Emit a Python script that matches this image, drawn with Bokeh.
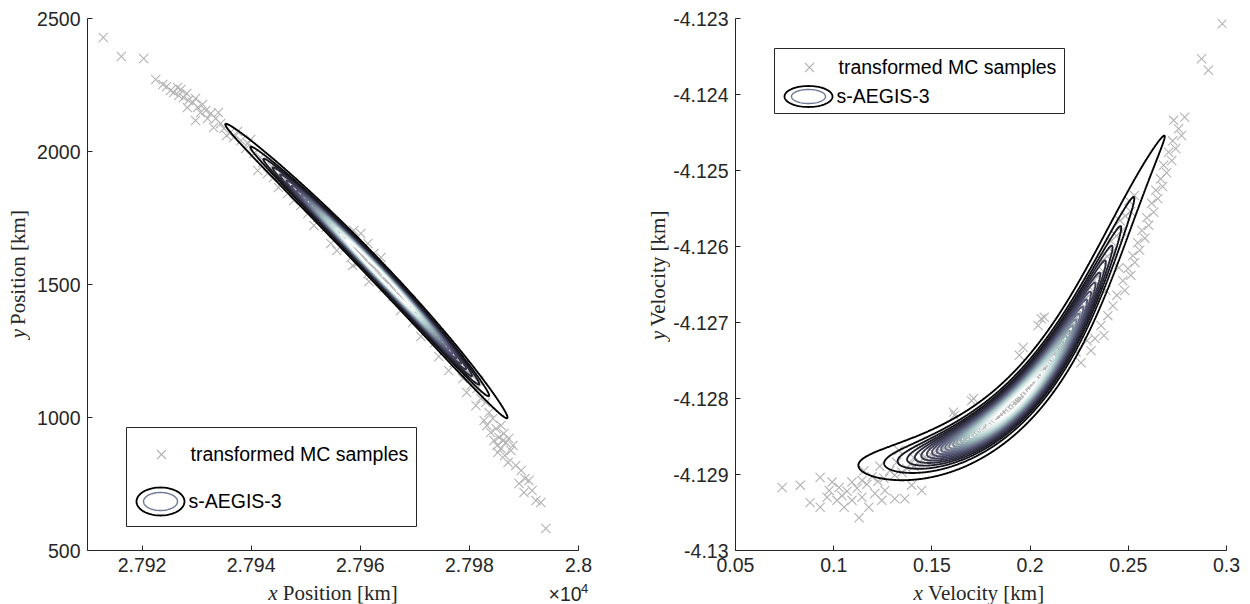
import numpy as np
from bokeh.plotting import figure
from bokeh.layouts import row, column
from bokeh.models import Range1d, FixedTicker, Label, BoxAnnotation, PolyAnnotation
from bokeh.core.properties import value
from bokeh.embed import file_html
from bokeh.resources import INLINE

# ---------------- data ----------------
# left panel: transformed MC samples (x position [km], y position [km])
pos_x = [
    27912.9, 27916.2, 27920.3, 27922.5, 27923.8, 27924.5, 27925.2, 27925.8, 27926.5, 27927.1,
    27926.7, 27927.6, 27928.2, 27928.5, 27929.3, 27928.3, 27929.8, 27930.2, 27930.7, 27931.7,
    27931.1, 27932.6, 27929.8, 27932.0, 27933.5, 27934.4, 27933.1, 27935.0, 27934.0, 27936.2,
    27935.5, 27936.8, 27938.1, 27937.5, 27939.4, 27939.0, 27940.5, 27939.9, 27941.7, 27941.2,
    27943.0, 27942.1, 27944.1, 27945.0, 27943.8, 27946.7, 27945.8, 27947.8, 27949.1, 27948.3,
    27950.4, 27949.8, 27952.2, 27951.5, 27953.7, 27952.8, 27955.1, 27954.6, 27956.4, 27955.7,
    27958.8, 27960.1, 27958.3, 27957.3, 27961.4, 27959.7, 27962.5, 27961.4, 27963.8, 27963.0,
    27964.3, 27965.2, 27966.5, 27966.0, 27967.4, 27968.4, 27967.4, 27969.3, 27970.2, 27969.6,
    27971.1, 27972.0, 27971.1, 27972.9, 27973.7, 27974.8, 27975.3, 27974.4, 27976.6, 27977.2,
    27976.2, 27978.4, 27978.8, 27979.9, 27980.3, 27979.5, 27981.4, 27982.1, 27981.2, 27983.0,
    27983.6, 27982.7, 27984.3, 27984.9, 27983.9, 27985.8, 27985.4, 27986.3, 27986.7, 27985.8,
    27987.2, 27987.6, 27984.5, 27985.2, 27986.5, 27988.0, 27987.1, 27988.5, 27989.5, 27990.2,
    27989.1, 27990.9, 27991.5, 27990.0, 27992.2, 27993.1, 27994.0, 27983.2, 27985.1, 27986.2,
    27959.2, 27960.5, 27961.9, 27964.7, 27967.1, 27956.1, 27953.3, 27958.6, 27961.6, 27957.3,
    27944.5, 27945.0, 27946.2, 27947.3, 27947.8, 27948.9, 27950.1, 27950.6, 27951.7, 27952.8,
    27953.3, 27954.4, 27955.5, 27956.1, 27957.1, 27958.3, 27958.8, 27959.8, 27960.9, 27961.4,
    27962.5, 27963.6, 27964.1, 27965.2, 27966.2, 27966.7, 27967.8, 27968.9, 27969.3, 27970.4,
    27971.5, 27971.9, 27973.0, 27974.1, 27974.5, 27975.6, 27976.6, 27977.1, 27978.1, 27979.1,
    27979.6, 27980.6, 27981.7,
    27949.4, 27950.1, 27951.4, 27952.1, 27952.9, 27954.2, 27954.9, 27955.6, 27956.9, 27957.6,
    27958.3, 27959.6, 27960.3, 27961.0, 27962.3, 27963.0, 27963.6, 27964.9, 27965.6, 27966.3,
    27967.6, 27968.2, 27968.9, 27970.2, 27970.8, 27971.5, 27972.8, 27973.4, 27974.1, 27975.4,
    27976.0, 27976.7, 27977.9]
pos_y = [
    2428.6, 2357.1, 2349.6, 2270.7, 2251.9, 2244.4, 2229.3, 2221.8, 2240.6, 2233.1,
    2210.5, 2203.0, 2218.0, 2191.7, 2184.2, 2165.4, 2199.2, 2165.4, 2146.6, 2154.1,
    2176.7, 2142.9, 2116.5, 2124.1, 2124.1, 2105.3, 2090.2, 2086.5, 2146.6, 2071.4,
    2060.1, 2052.6, 2041.4, 2075.2, 2030.1, 2011.3, 1992.5, 2045.1, 1977.4, 1928.6,
    1917.3, 1958.6, 1902.3, 1864.7, 1943.6, 1842.1, 1891.0, 1815.8, 1797.0, 1849.6,
    1766.9, 1815.8, 1751.9, 1721.8, 1714.3, 1763.2, 1691.7, 1654.1, 1672.9, 1627.8,
    1703.0, 1691.7, 1601.5, 1639.1, 1654.1, 1582.7, 1616.5, 1541.4, 1601.5, 1560.1,
    1488.7, 1522.6, 1500.0, 1454.9, 1469.9, 1432.3, 1402.3, 1439.8, 1391.0, 1357.1,
    1372.2, 1334.6, 1304.5, 1327.0, 1282.0, 1308.3, 1259.4, 1229.3, 1244.4, 1206.8,
    1176.7, 1195.5, 1146.6, 1169.2, 1120.3, 1094.0, 1109.0, 1071.4, 1045.1, 1056.4,
    1018.8, 988.7, 996.2, 958.6, 943.6, 969.9, 924.8, 939.8, 906.0, 883.5,
    921.0, 875.9, 913.5, 868.4, 857.1, 894.7, 830.8, 819.5, 800.7, 770.7,
    751.9, 763.2, 725.6, 718.0, 688.0, 680.5, 582.7, 969.9, 894.7, 913.5,
    1578.9, 1605.3, 1533.8, 1503.8, 1469.9, 1695.5, 1740.6, 1571.4, 1511.3, 1665.4,
    1938.9, 1913.0, 1898.7, 1884.4, 1858.4, 1844.0, 1829.6, 1803.4, 1788.9, 1774.3,
    1748.0, 1733.3, 1718.6, 1692.2, 1677.3, 1662.5, 1635.9, 1621.0, 1606.0, 1579.2,
    1564.1, 1549.0, 1522.2, 1506.9, 1491.6, 1464.7, 1449.3, 1433.9, 1406.7, 1391.2,
    1375.7, 1348.4, 1332.7, 1317.0, 1289.6, 1273.8, 1258.0, 1230.5, 1214.5, 1198.5,
    1170.9, 1154.8, 1138.7,
    1834.5, 1812.3, 1801.7, 1779.4, 1757.0, 1746.3, 1723.8, 1701.3, 1690.4, 1667.8,
    1645.2, 1634.2, 1611.4, 1588.7, 1577.5, 1554.6, 1531.7, 1520.4, 1497.4, 1474.3,
    1462.9, 1439.8, 1416.6, 1405.0, 1381.7, 1358.4, 1346.6, 1323.2, 1299.7, 1287.9,
    1264.3, 1240.7, 1228.7]

# right panel: transformed MC samples (x velocity, y velocity)
vel_x = [
    0.2979, 0.2873, 0.2908, 0.2731, 0.2787, 0.2756, 0.2771, 0.2726, 0.2741, 0.2705,
    0.2721, 0.2680, 0.2695, 0.2665, 0.2675, 0.2640, 0.2650, 0.2619, 0.2629, 0.2594,
    0.2604, 0.2569, 0.2584, 0.2548, 0.2558, 0.2523, 0.2533, 0.2498, 0.2513, 0.2472,
    0.2452, 0.2482, 0.2442, 0.2386, 0.2422, 0.2345, 0.2396, 0.2361, 0.2376, 0.2330,
    0.2310, 0.2290, 0.2259, 0.2234, 0.2092, 0.2057, 0.2072, 0.2041, 0.1945, 0.1965,
    0.1712, 0.1702, 0.1610, 0.1615, 0.1331,
    0.2209, 0.2178, 0.2148, 0.2117, 0.2087, 0.2057, 0.2026, 0.1996, 0.1965, 0.1935,
    0.1904, 0.1874, 0.1844, 0.1813, 0.1783, 0.1752, 0.1722, 0.1691, 0.1661, 0.1631,
    0.1600, 0.1570, 0.1539, 0.1509,
    0.2006, 0.2036, 0.1915, 0.1945, 0.1803, 0.1833, 0.1727, 0.1681, 0.1626, 0.1575,
    0.1473, 0.1438, 0.1408, 0.1372, 0.1347, 0.1311, 0.1286, 0.1255, 0.1225, 0.1195,
    0.1169, 0.1144, 0.1119, 0.1093, 0.1068, 0.1042, 0.1053, 0.1027, 0.0992, 0.0977,
    0.0931, 0.0931, 0.0880, 0.0830, 0.0738, 0.1129, 0.1144, 0.1179, 0.1245, 0.1261,
    0.1311, 0.1362, 0.1448, 0.1397, 0.1210, 0.1093, 0.1017, 0.0966, 0.1154, 0.1235,
    0.1321,
    0.1390, 0.1408, 0.1459, 0.1508, 0.1523, 0.1571, 0.1617, 0.1629, 0.1673, 0.1717,
    0.1726, 0.1768, 0.1808, 0.1815, 0.1854, 0.1892, 0.1896, 0.1933, 0.1969, 0.1971,
    0.2006, 0.2040, 0.2040, 0.2073, 0.2106, 0.2104, 0.2135, 0.2166, 0.2163, 0.2193,
    0.2222, 0.2218, 0.2247, 0.2275, 0.2270, 0.2298, 0.2325, 0.2319, 0.2346, 0.2373,
    0.2366, 0.2393, 0.2420, 0.2413, 0.2439, 0.2466, 0.2458, 0.2485, 0.2512, 0.2504,
    0.2531,
    0.1601, 0.1637, 0.1671, 0.1704, 0.1736, 0.1768, 0.1798, 0.1828, 0.1857, 0.1885,
    0.1912, 0.1938, 0.1964, 0.1989, 0.2013, 0.2037, 0.2060, 0.2082, 0.2104, 0.2125,
    0.2146, 0.2166, 0.2185, 0.2205, 0.2223, 0.2242, 0.2260, 0.2277, 0.2295, 0.2312,
    0.2328,
    0.1564, 0.1599, 0.1633, 0.1666, 0.1699, 0.1730, 0.1761, 0.1790, 0.1819, 0.1847,
    0.1874, 0.1901, 0.1926, 0.1951, 0.1976, 0.1999, 0.2022, 0.2044, 0.2066, 0.2087,
    0.2108, 0.2128, 0.2148, 0.2167, 0.2186, 0.2204, 0.2222, 0.2240, 0.2257, 0.2274,
    0.2291]
vel_y = [
    -4.12307, -4.12353, -4.12368, -4.12434, -4.12430, -4.12445, -4.12454, -4.12461, -4.12471, -4.12476,
    -4.12487, -4.12493, -4.12503, -4.12511, -4.12521, -4.12526, -4.12537, -4.12543, -4.12555, -4.12562,
    -4.12572, -4.12579, -4.12589, -4.12595, -4.12605, -4.12612, -4.12621, -4.12629, -4.12638, -4.12645,
    -4.12628, -4.12658, -4.12664, -4.12658, -4.12678, -4.12649, -4.12691, -4.12704, -4.12717, -4.12721,
    -4.12737, -4.12724, -4.12753, -4.12739, -4.12786, -4.12695, -4.12693, -4.12704, -4.12743, -4.12733,
    -4.12800, -4.12803, -4.12818, -4.12822, -4.12868,
    -4.12705, -4.12716, -4.12726, -4.12737, -4.12746, -4.12755, -4.12764, -4.12774, -4.12782, -4.12789,
    -4.12797, -4.12804, -4.12811, -4.12817, -4.12824, -4.12830, -4.12836, -4.12842, -4.12847, -4.12853,
    -4.12858, -4.12863, -4.12868, -4.12872,
    -4.12758, -4.12776, -4.12787, -4.12803, -4.12809, -4.12826, -4.12826, -4.12850, -4.12845, -4.12871,
    -4.12879, -4.12884, -4.12889, -4.12892, -4.12897, -4.12901, -4.12895, -4.12905, -4.12909, -4.12903,
    -4.12913, -4.12908, -4.12918, -4.12910, -4.12922, -4.12928, -4.12943, -4.12917, -4.12910, -4.12921,
    -4.12904, -4.12943, -4.12937, -4.12914, -4.12917, -4.12957, -4.12930, -4.12943, -4.12934, -4.12921,
    -4.12932, -4.12932, -4.12921, -4.12914, -4.12925, -4.12934, -4.12934, -4.12930, -4.12895, -4.12889,
    -4.12884,
    -4.12886, -4.12878, -4.12878, -4.12877, -4.12868, -4.12867, -4.12865, -4.12856, -4.12854, -4.12851,
    -4.12841, -4.12838, -4.12836, -4.12825, -4.12821, -4.12818, -4.12807, -4.12803, -4.12799, -4.12787,
    -4.12783, -4.12778, -4.12766, -4.12761, -4.12756, -4.12744, -4.12738, -4.12733, -4.12720, -4.12715,
    -4.12709, -4.12696, -4.12690, -4.12684, -4.12671, -4.12665, -4.12659, -4.12645, -4.12639, -4.12633,
    -4.12619, -4.12613, -4.12607, -4.12593, -4.12586, -4.12580, -4.12566, -4.12560, -4.12554, -4.12540,
    -4.12533,
    -4.128676, -4.128635, -4.128592, -4.128545, -4.128497, -4.128447, -4.128394, -4.128340, -4.128283, -4.128224,
    -4.128164, -4.128102, -4.128038, -4.127973, -4.127906, -4.127836, -4.127766, -4.127695, -4.127621, -4.127547,
    -4.127472, -4.127394, -4.127317, -4.127238, -4.127157, -4.127077, -4.126995, -4.126911, -4.126828, -4.126744,
    -4.126658,
    -4.128588, -4.128546, -4.128503, -4.128457, -4.128408, -4.128358, -4.128306, -4.128251, -4.128194, -4.128136,
    -4.128075, -4.128013, -4.127950, -4.127884, -4.127817, -4.127748, -4.127677, -4.127606, -4.127533, -4.127458,
    -4.127383, -4.127306, -4.127228, -4.127149, -4.127069, -4.126988, -4.126906, -4.126823, -4.126739, -4.126655,
    -4.126570]

# axes ranges and ticks
pos_xrange = (27910, 28000)
pos_yrange = (500, 2500)
vel_xrange = (0.05, 0.3)
vel_yrange = (-4.13, -4.123)
pos_xticks = [27920, 27940, 27960, 27980, 28000]
pos_xtick_labels = ["2.792", "2.794", "2.796", "2.798", "2.8"]
pos_yticks = [500, 1000, 1500, 2000, 2500]
pos_ytick_labels = ["500", "1000", "1500", "2000", "2500"]
vel_xticks = [0.05, 0.1, 0.15, 0.2, 0.25, 0.3]
vel_xtick_labels = ["0.05", "0.1", "0.15", "0.2", "0.25", "0.3"]
vel_yticks = [-4.13, -4.129, -4.128, -4.127, -4.126, -4.125, -4.124, -4.123]
vel_ytick_labels = ["-4.13", "-4.129", "-4.128", "-4.127", "-4.126", "-4.125", "-4.124", "-4.123"]

# s-AEGIS-3 density: curved Gaussian shape parameters
# (centre in data units, shape in pixels of the plot frame)
pos_model = dict(cx=27963.3, cy=1545.1, d=(0.689, -0.724), n=(0.724, 0.689),
                 half=204.0, bow=7.6, off=-7.6, skew=0.0, u0=0.0,
                 a=-0.00045, sw=72.6, sv=3.5, k=0.0)
vel_model = dict(cx=0.19173, cy=-4.12673, d=(0.671, 0.741), n=(0.741, -0.671),
                 half=227.0, bow=64.0, off=0.0, skew=0.6, u0=-73.0,
                 a=0.003, sw=70.4, sv=8.22, k=0.0018)
pos_levels = [0.02, 0.06, 0.10, 0.14, 0.18, 0.22, 0.26, 0.30, 0.34, 0.38,
              0.42, 0.46, 0.50, 0.54, 0.58, 0.62, 0.66, 0.70, 0.76, 0.82]
vel_levels = [0.02, 0.06, 0.10, 0.14, 0.18, 0.22, 0.26, 0.30, 0.34, 0.38, 0.42,
              0.46, 0.50, 0.54, 0.58, 0.62, 0.66, 0.70, 0.75, 0.80, 0.86, 0.91]
pos_grid_box = (27926.0, 27997.0, 880.0, 2220.0)
vel_grid_box = (0.100, 0.282, -4.1300, -4.1238)

# ---------------- styling helpers ----------------
FW_L, FW_R, FH = 491, 493, 532
FIG_H = 580
AX = "#262626"
SANS = "Liberation Sans"
SERIF = "Liberation Serif"
SAMPLE = "#b3b3b3"


def bone(t):
    rh = min(1.0, t / 0.375)
    gh = min(1.0, max(0.0, (t - 0.375) / 0.375))
    bh = min(1.0, max(0.0, (t - 0.75) / 0.25))
    r, g, b = (7 * t + bh) / 8, (7 * t + gh) / 8, (7 * t + rh) / 8
    return "#%02x%02x%02x" % (int(round(r * 255)), int(round(g * 255)), int(round(b * 255)))


def density(xg, yg, m, kx, ky):
    X = (xg - m["cx"]) * kx
    Y = (yg - m["cy"]) * ky
    u = X * m["d"][0] + Y * m["d"][1]
    v = X * m["n"][0] + Y * m["n"][1]
    t = u / m["half"]
    vc = m["off"] + m["bow"] * (1 - t ** 2) * (1 - m["skew"] * t)
    dvc = m["bow"] * (-2 * t * (1 - m["skew"] * t) - m["skew"] * (1 - t ** 2)) / m["half"]
    perp = (v - vc) / np.sqrt(1 + dvc ** 2)
    D = u - m["u0"]
    w = (1 - np.exp(-m["a"] * D)) / m["a"]
    sv = m["sv"] * np.exp(-m["k"] * D)
    return np.exp(-0.5 * ((w / m["sw"]) ** 2 + (perp / sv) ** 2))


def make_fig(width, xr, yr, bl, br, xt, xtl, yt, ytl):
    p = figure(width=width, height=FIG_H, x_range=Range1d(*xr), y_range=Range1d(*yr),
               output_backend="svg", toolbar_location=None, tools="",
               min_border_left=bl, min_border_right=br, min_border_top=18,
               min_border_bottom=FIG_H - 18 - FH,
               background_fill_color="white", border_fill_color="white")
    p.outline_line_color = None
    p.grid.visible = False
    p.xaxis.ticker = FixedTicker(ticks=xt, minor_ticks=[])
    p.yaxis.ticker = FixedTicker(ticks=yt, minor_ticks=[])
    p.xaxis.major_label_overrides = dict(zip(xt, xtl))
    p.yaxis.major_label_overrides = dict(zip(yt, ytl))
    for ax in (p.xaxis[0], p.yaxis[0]):
        ax.axis_line_color = AX
        ax.axis_line_width = 1
        ax.major_tick_line_color = AX
        ax.major_tick_in = 5
        ax.major_tick_out = 0
        ax.minor_tick_line_color = None
        ax.major_label_text_font = SANS
        ax.major_label_text_font_size = "19.5px"
        ax.major_label_text_color = AX
    p.xaxis.major_label_standoff = 7
    p.yaxis.major_label_standoff = 7
    return p


def strip(w, h):
    f = figure(width=w, height=h, x_range=Range1d(0, w), y_range=Range1d(0, h),
               output_backend="svg", toolbar_location=None, tools="", min_border=0,
               x_axis_location=None, y_axis_location=None,
               background_fill_color="white", border_fill_color="white")
    f.outline_line_color = None
    f.grid.visible = False
    return f


def add_contours(p, m, levels, box, fw):
    xr = p.x_range
    yr = p.y_range
    kx = fw / (xr.end - xr.start)
    ky = FH / (yr.end - yr.start)
    nx = int((box[1] - box[0]) * kx / 0.6)
    ny = int((box[3] - box[2]) * ky / 0.6)
    xs = np.linspace(box[0], box[1], nx)
    ys = np.linspace(box[2], box[3], ny)
    XX, YY = np.meshgrid(xs, ys)
    Z = density(XX, YY, m, kx, ky)
    n = len(levels)
    colors = [bone(i / (n - 1)) for i in range(n)]
    p.contour(x=xs, y=ys, z=Z, levels=levels, line_color=colors, line_width=1.9)


def slabel(p, x, y, text, size="19.5px", color="#000000"):
    p.add_layout(Label(x=x, y=y, x_units="screen", y_units="screen", text=text,
                       text_font=SANS, text_font_size=size, text_color=color,
                       text_align="left", text_baseline="middle"))


def ellipse_icon(p, cx, cy, a, b, color, width):
    t = np.linspace(0, 2 * np.pi, 73)
    p.add_layout(PolyAnnotation(xs=list(cx + a * np.cos(t)), ys=list(cy + b * np.sin(t)),
                                xs_units="screen", ys_units="screen",
                                fill_color=None, fill_alpha=0,
                                line_color=color, line_alpha=1.0, line_width=width))


def cross_icon(p, cx, cy, h=4.5):
    xs = [cx - h, cx + h, cx, cx + h, cx - h, cx]
    ys = [cy - h, cy + h, cy, cy - h, cy + h, cy]
    p.add_layout(PolyAnnotation(xs=xs, ys=ys, xs_units="screen", ys_units="screen",
                                fill_color=None, fill_alpha=0,
                                line_color=SAMPLE, line_alpha=1.0, line_width=1.1))


def legend(p, left, bottom, top, c1y, c2y, ell_b, inner_b):
    p.add_layout(BoxAnnotation(left=left, right=left + 290, bottom=bottom, top=top,
                               left_units="screen", right_units="screen",
                               bottom_units="screen", top_units="screen",
                               fill_color="white", fill_alpha=1.0,
                               line_color=AX, line_alpha=1.0, line_width=1))
    cross_icon(p, left + 35, c1y)
    slabel(p, left + 64, c1y + 1, "transformed MC samples")
    ellipse_icon(p, left + 34, c2y, 24, ell_b, "#000000", 1.8)
    ellipse_icon(p, left + 34, c2y, 17, inner_b, "#6e7a95", 1.4)
    slabel(p, left + 62, c2y + 1, "s-AEGIS-3")


def vlabel(f, x, yc, word, wword):
    total = 9.3 + 5.3 + wword * 21
    s = yc - total / 2
    f.text(x=[x], y=[s], text=["y"], angle=np.pi / 2, text_font=value(SERIF),
           text_font_size="21px", text_font_style="italic", text_color=AX,
           text_align="left", text_baseline="middle")
    f.text(x=[x], y=[s + 14.6], text=[word], angle=np.pi / 2, text_font=value(SERIF),
           text_font_size="21px", text_color=AX, text_align="left", text_baseline="middle")


def hlabel(f, xc, y, word, wword):
    total = 9.3 + 5.3 + wword * 21
    s = xc - total / 2
    f.text(x=[s], y=[y], text=["x"], text_font=value(SERIF), text_font_size="21px",
           text_font_style="italic", text_color=AX, text_align="left", text_baseline="middle")
    f.text(x=[s + 14.6], y=[y], text=[word], text_font=value(SERIF), text_font_size="21px",
           text_color=AX, text_align="left", text_baseline="middle")


# ---------------- left panel ----------------
p1 = make_fig(595, pos_xrange, pos_yrange, 57, 47, pos_xticks, pos_xtick_labels, pos_yticks, pos_ytick_labels)
p1.scatter(pos_x, pos_y, marker="x", size=13, line_color=SAMPLE, line_width=1.1)
add_contours(p1, pos_model, pos_levels, pos_grid_box, FW_L)
legend(p1, 39, 24, 123, 96, 49, 14, 9)

# ---------------- right panel ----------------
p2 = make_fig(580, vel_xrange, vel_yrange, 63, 24, vel_xticks, vel_xtick_labels, vel_yticks, vel_ytick_labels)
p2.scatter(vel_x, vel_y, marker="x", size=13, line_color=SAMPLE, line_width=1.1)
add_contours(p2, vel_model, vel_levels, vel_grid_box, FW_R)
legend(p2, 39, 437, 502, 483, 454, 10.5, 7)

# ---------------- axis-title strips ----------------
yc = FIG_H - 284
yl1 = strip(30, FIG_H)
vlabel(yl1, 17, yc, "Position [km]", 5.47)
yl2 = strip(45, FIG_H)
vlabel(yl2, 32.5, yc, "Velocity [km]", 5.64)
XH = 604 - FIG_H
xl = strip(1250, XH)
hlabel(xl, 332.5, 604 - 592, "Position [km]", 5.47)
hlabel(xl, 979.5, 604 - 592, "Velocity [km]", 5.64)
xl.text(x=[548], y=[604 - 593], text=["×10"], text_font=value(SANS), text_font_size="19.5px",
        text_color=AX, text_align="left", text_baseline="middle")
xl.text(x=[580.5], y=[604 - 587.5], text=["4"], text_font=value(SANS), text_font_size="13px",
        text_color=AX, text_align="left", text_baseline="middle")

layout = column(row(yl1, p1, yl2, p2), xl)
open("out.html", "w").write(file_html(layout, INLINE))
